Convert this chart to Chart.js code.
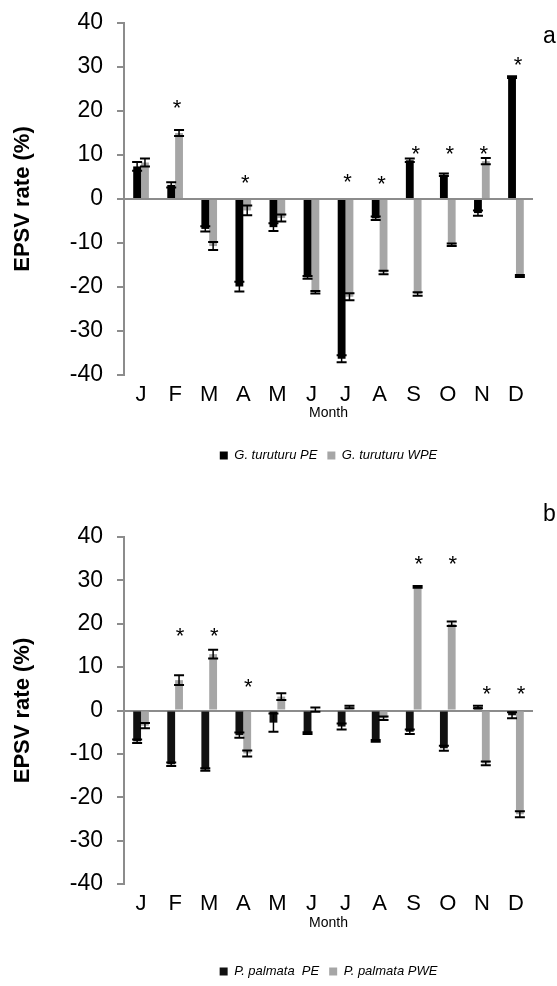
<!DOCTYPE html>
<html lang="en">
  <head>
    <meta charset="UTF-8" />
    <title>EPSV rate</title>
    <script src="https://cdn.jsdelivr.net/npm/chart.js"></script>
    <style>
      body { margin: 0; background: #fff; overflow: hidden; }
      .panel { position: absolute; left: 0; width: 557px; }
      #top { top: 0; height: 472px; }
      #bottom { top: 470px; height: 518px; }
    </style>
  </head>
  <body>
    <div class="panel" id="top"><canvas id="chartA"></canvas></div>
    <div class="panel" id="bottom"><canvas id="chartB"></canvas></div>
    <script>
      const months = ["J", "F", "M", "A", "M", "J", "J", "A", "S", "O", "N", "D"];
      const yTicks = [40, 30, 20, 10, 0, -10, -20, -30, -40];

      // panel a - G. turuturu
      const gtPE = [7.4, 3.2, -6.8, -19.9, -6.4, -17.8, -36.3, -4.4, 8.8, 5.5, -3.2, 27.7];
      const gtPEerr = [1.0, 0.6, 0.6, 1.1, 0.9, 0.3, 0.8, 0.4, 0.4, 0.3, 0.6, 0.2];
      const gtWPE = [8.3, 15.0, -10.7, -2.6, -4.3, -21.2, -22.2, -16.7, -21.6, -10.4, 8.6, -17.5];
      const gtWPEerr = [0.9, 0.7, 0.9, 1.1, 0.8, 0.3, 0.8, 0.4, 0.4, 0.3, 0.7, 0.2];
      const gtStars = [null, 21.5, null, 4.6, null, null, 4.8, 4.3, 11.2, 11.2, 11.2, 31.3];

      // panel b - P. palmata
      const ppPE = [-7.1, -12.4, -13.6, -5.7, -2.8, -5.2, -3.7, -7.0, -4.9, -8.7, 0.8, -1.1];
      const ppPEerr = [0.4, 0.4, 0.3, 0.6, 2.1, 0.2, 0.7, 0.2, 0.5, 0.6, 0.3, 0.7];
      const ppPWE = [-3.5, 7.0, 13.0, -9.9, 3.2, 0.2, 0.8, -1.8, 28.5, 20.0, -12.2, -23.9];
      const ppPWEerr = [0.6, 1.1, 1.0, 0.7, 0.8, 0.5, 0.3, 0.4, 0.2, 0.5, 0.45, 0.7];
      const ppStars = [null, 18.1, 18.1, 6.3, null, null, null, null, 34.8, 34.8, 4.8, 4.8];

      const AXIS = "#8c8c8c";
      const FONT = "'Liberation Sans', Arial, sans-serif";

      // error bars, significance stars and the panel letter
      const extras = {
        id: "extras",
        afterDatasetsDraw(chart) {
          const ctx = chart.ctx;
          const y = chart.scales.y;
          const x = chart.scales.x;
          const opts = chart.options.plugins.extras;
          ctx.save();
          ctx.strokeStyle = "#000";
          chart.data.datasets.forEach((ds, i) => {
            const meta = chart.getDatasetMeta(i);
            meta.data.forEach((bar, j) => {
              const v = ds.data[j];
              const e = ds.errors[j];
              const y1 = y.getPixelForValue(v - e);
              const y2 = y.getPixelForValue(v + e);
              ctx.lineWidth = 1.5;
              ctx.beginPath();
              ctx.moveTo(bar.x, y1);
              ctx.lineTo(bar.x, y2);
              ctx.stroke();
              ctx.lineWidth = 2;
              ctx.beginPath();
              ctx.moveTo(bar.x - 5, y1);
              ctx.lineTo(bar.x + 5, y1);
              ctx.moveTo(bar.x - 5, y2);
              ctx.lineTo(bar.x + 5, y2);
              ctx.stroke();
            });
          });
          ctx.fillStyle = "#000";
          ctx.font = "22px " + FONT;
          ctx.textAlign = "center";
          ctx.textBaseline = "middle";
          opts.stars.forEach((s, j) => {
            if (s === null) return;
            ctx.fillText("*", x.getPixelForValue(j) + opts.starShift, y.getPixelForValue(s) + 5);
          });
          ctx.font = "23px " + FONT;
          ctx.textAlign = "left";
          ctx.fillText(opts.letter, chart.chartArea.right + 10, opts.letterY);
          ctx.restore();
        },
      };

      function makeChart(id, pe, peErr, we, weErr, stars, names, peColor, pad, letterY, starShift, xHeight, titleBottom) {
        return new Chart(document.getElementById(id), {
          type: "bar",
          data: {
            labels: months,
            datasets: [
              { label: names[0], data: pe, errors: peErr, backgroundColor: peColor, barPercentage: 1, categoryPercentage: 0.46 },
              { label: names[1], data: we, errors: weErr, backgroundColor: "#a6a6a6", barPercentage: 1, categoryPercentage: 0.46 },
            ],
          },
          options: {
            responsive: true,
            maintainAspectRatio: false,
            animation: false,
            layout: { padding: pad },
            scales: {
              x: {
                afterFit: (scale) => {
                  scale.height = xHeight;
                },
                grid: { display: false, drawTicks: false },
                border: { display: false },
                ticks: { color: "#000", font: { family: FONT, size: 22 }, padding: 7 },
                title: {
                  display: true,
                  text: "Month",
                  color: "#000",
                  font: { family: FONT, size: 14, lineHeight: 1 },
                  padding: { top: 0, bottom: titleBottom },
                },
              },
              y: {
                min: -40,
                max: 40,
                afterBuildTicks: (scale) => {
                  scale.ticks = yTicks.map((v) => ({ value: v }));
                },
                afterFit: (scale) => {
                  scale.width = 124 - pad.left;
                  scale.paddingTop = 0;
                  scale.paddingBottom = 0;
                },
                grid: {
                  color: (c) => (c.tick && c.tick.value === 0 ? AXIS : "rgba(0,0,0,0)"),
                  tickColor: AXIS,
                  lineWidth: 2,
                  tickLength: 7,
                },
                border: { display: true, color: AXIS, width: 2 },
                ticks: { color: "#000", font: { family: FONT, size: 23 }, padding: 14 },
                title: {
                  display: true,
                  text: "EPSV rate (%)",
                  color: "#000",
                  font: { family: FONT, size: 22, weight: "bold" },
                  padding: { top: 4, bottom: 4 },
                },
              },
            },
            plugins: {
              tooltip: { enabled: false },
              legend: {
                position: "bottom",
                fullSize: false,
                labels: {
                  color: "#000",
                  font: { family: FONT, size: 13, style: "italic" },
                  boxWidth: 8,
                  boxHeight: 8,
                  padding: 10,
                },
              },
              extras: { stars: stars, letter: names[2], letterY: letterY, starShift: starShift },
            },
          },
          plugins: [extras],
        });
      }

      makeChart("chartA", gtPE, gtPEerr, gtWPE, gtWPEerr, gtStars,
        ["G. turuturu PE", "G. turuturu WPE", "a"], "#000000",
        { top: 23, right: 24, left: 6, bottom: 0 }, 37, 2, 64, 19);
      makeChart("chartB", ppPE, ppPEerr, ppPWE, ppPWEerr, ppStars,
        ["P. palmata  PE", "P. palmata PWE", "b"], "#111111",
        { top: 67, right: 24, left: 6, bottom: 0 }, 45, 5, 71, 25);
    </script>
  </body>
</html>
